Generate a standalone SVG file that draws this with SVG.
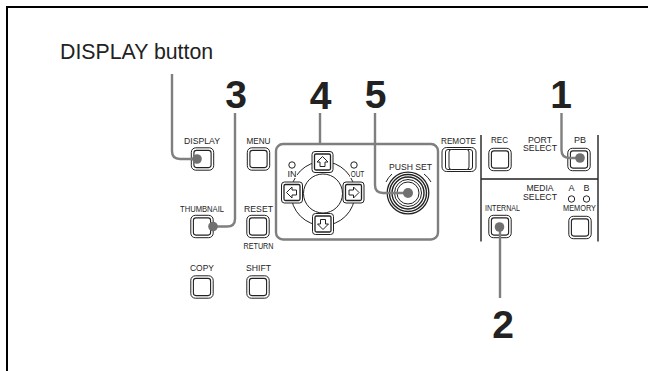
<svg xmlns="http://www.w3.org/2000/svg" width="648" height="371" viewBox="0 0 648 371">
<defs>
<g id="btn"><rect x="-11.200" y="-11.200" width="22.400" height="22.400" rx="4.500" fill="#fff" stroke="#222" stroke-width="1"/><rect x="-8.600" y="-8.600" width="17.200" height="17.200" rx="2.500" fill="none" stroke="#222" stroke-width="1.100"/></g>
<g id="key"><rect x="-10.500" y="-10.500" width="21" height="21" rx="3" fill="#fff" stroke="#222" stroke-width="1"/><rect x="-8" y="-8" width="16" height="16" rx="1.500" fill="none" stroke="#222" stroke-width="1.300"/></g>
<path id="arrow" d="M0,-5.500 L5.500,0 L2.500,0 L2.500,4.500 L-2.500,4.500 L-2.500,0 L-5.500,0 Z" fill="#fff" stroke="#222" stroke-width="1"/>
</defs>
<style>
.s{font-family:"Liberation Sans",Arial,sans-serif;font-size:9px;fill:#222;text-anchor:middle;opacity:.99}
.n{font-family:"Liberation Sans",Arial,sans-serif;font-size:39px;font-weight:bold;fill:#222;text-anchor:middle}
.t{font-family:"Liberation Sans",Arial,sans-serif;font-size:21.300px;fill:#222}
.c{fill:none;stroke:#7f7f7f;stroke-width:2.400}
.d{fill:#707070}
.l{fill:none;stroke:#222;stroke-width:1}
.f{fill:none;stroke:#222;stroke-width:1.400}
</style>
<rect width="648" height="371" fill="#fff"/>
<path d="M7,371 V7 H648" fill="none" stroke="#000" stroke-width="2"/>
<text class="t" x="60" y="59">DISPLAY button</text>
<text class="n" x="236" y="108">3</text><text class="n" x="320.500" y="108.500">4</text><text class="n" x="375.500" y="108">5</text><text class="n" x="561" y="107.500">1</text><text class="n" x="503" y="338">2</text>
<g id="btn-display"><text class="s" x="202" y="143.500" textLength="36" lengthAdjust="spacingAndGlyphs">DISPLAY</text><use href="#btn" x="202.500" y="159"/></g>
<g id="btn-menu"><text class="s" x="258.500" y="143.500" textLength="24" lengthAdjust="spacingAndGlyphs">MENU</text><use href="#btn" x="258.500" y="159"/></g>
<g id="btn-thumbnail"><text class="s" x="202" y="212" textLength="44" lengthAdjust="spacingAndGlyphs">THUMBNAIL</text><use href="#btn" x="202" y="226.500"/></g>
<g id="btn-reset"><text class="s" x="258.500" y="212" textLength="29" lengthAdjust="spacingAndGlyphs">RESET</text><use href="#btn" x="258" y="226.500"/><text class="s" x="258.500" y="249" textLength="30" lengthAdjust="spacingAndGlyphs">RETURN</text></g>
<g id="btn-copy"><text class="s" x="202" y="271" textLength="24" lengthAdjust="spacingAndGlyphs">COPY</text><use href="#btn" x="202" y="287"/></g>
<g id="btn-shift"><text class="s" x="258.500" y="271" textLength="25" lengthAdjust="spacingAndGlyphs">SHIFT</text><use href="#btn" x="258" y="287"/></g>
<g id="cursor-panel"><rect x="276" y="144" width="162" height="95.500" rx="7" fill="none" stroke="#7f7f7f" stroke-width="2.400"/>
<circle cx="323" cy="193.500" r="32" class="l"/><circle cx="323" cy="193.500" r="19.500" fill="#fff" stroke="#222"/>
<circle cx="292" cy="165" r="3.200" class="l"/><rect x="287" y="170" width="10" height="8" fill="#fff"/><text class="s" x="292" y="177">IN</text>
<circle cx="354" cy="165" r="3.200" class="l"/><rect x="350" y="170" width="15" height="8" fill="#fff"/><text class="s" x="357.500" y="177" textLength="13.500" lengthAdjust="spacingAndGlyphs">OUT</text>
<use href="#key" x="322.500" y="162"/><use href="#arrow" x="322.500" y="162"/>
<use href="#key" x="292" y="192.500"/><use href="#arrow" transform="translate(292 192.500) rotate(-90)"/>
<use href="#key" x="353.500" y="192.500"/><use href="#arrow" transform="translate(353.500 192.500) rotate(90)"/>
<use href="#key" x="323" y="224"/><use href="#arrow" transform="translate(323 224) rotate(180)"/>
</g>
<g id="jog"><text class="s" x="410.500" y="169.500" textLength="43" lengthAdjust="spacingAndGlyphs">PUSH SET</text>
<circle cx="408" cy="193" r="20.800" fill="#fff" stroke="#222" stroke-width="1.300"/><circle cx="408" cy="193" r="18.500" class="f"/><circle cx="408" cy="193" r="16" class="f"/><circle cx="408" cy="193" r="13.500" class="l"/><circle cx="408" cy="193" r="11" class="l"/>
<path d="M386,182 A25,25 0 0 1 392,174 M424,174 A25,25 0 0 1 431,182" class="l"/></g>
<g id="btn-remote"><text class="s" x="458.500" y="143.500" textLength="35" lengthAdjust="spacingAndGlyphs">REMOTE</text><rect x="442" y="147.500" width="34" height="24" rx="4.500" fill="#fff" stroke="#222"/><rect x="445.500" y="149.500" width="27" height="20" rx="2.500" fill="none" stroke="#222"/><rect x="449" y="149.500" width="20" height="20" rx="2.500" fill="#fff" stroke="#222"/></g>
<g id="port-select"><path d="M481,135 V241.500 M598,135 V241.500 M481,179 H598" class="f"/>
<text class="s" x="499.500" y="143" textLength="17" lengthAdjust="spacingAndGlyphs">REC</text><use href="#btn" x="500" y="159.500"/>
<text class="s" x="540" y="142.500" textLength="24" lengthAdjust="spacingAndGlyphs">PORT</text><text class="s" x="540" y="151" textLength="34" lengthAdjust="spacingAndGlyphs">SELECT</text>
<text class="s" x="580" y="143" textLength="12" lengthAdjust="spacingAndGlyphs">PB</text><use href="#btn" x="579" y="159.500"/></g>
<g id="media-select"><text class="s" x="540" y="191" textLength="27" lengthAdjust="spacingAndGlyphs">MEDIA</text><text class="s" x="540" y="200" textLength="34" lengthAdjust="spacingAndGlyphs">SELECT</text>
<text class="s" x="571.500" y="191">A</text><text class="s" x="586.500" y="191">B</text>
<circle cx="571.500" cy="199" r="3.200" class="l"/><circle cx="586.500" cy="199" r="3.200" class="l"/>
<text class="s" x="579.500" y="211" textLength="33" lengthAdjust="spacingAndGlyphs">MEMORY</text><use href="#btn" x="580" y="227.500"/>
<text class="s" x="502.500" y="211" textLength="35" lengthAdjust="spacingAndGlyphs">INTERNAL</text><use href="#btn" x="500" y="226.500"/></g>
<g id="connectors">
<path class="c" d="M172,74 V151 Q172,159 180,159 H197"/><circle class="d" cx="197" cy="159" r="4.800"/>
<path class="c" d="M235,113 V219 Q235,226.500 227,226.500 H213"/><circle class="d" cx="213" cy="226.500" r="4.800"/>
<path class="c" d="M320,113 V144"/>
<path class="c" d="M375,113 V185 Q375,193 383,193 H408"/><circle class="d" cx="408" cy="193" r="5"/>
<path class="c" d="M561.500,113 V150 Q561.500,158 569.500,158 H580"/><circle class="d" cx="580" cy="158" r="4.800"/>
<path class="c" d="M500,227 V298"/><circle class="d" cx="499.500" cy="227" r="4.800"/>
</g>
</svg>
